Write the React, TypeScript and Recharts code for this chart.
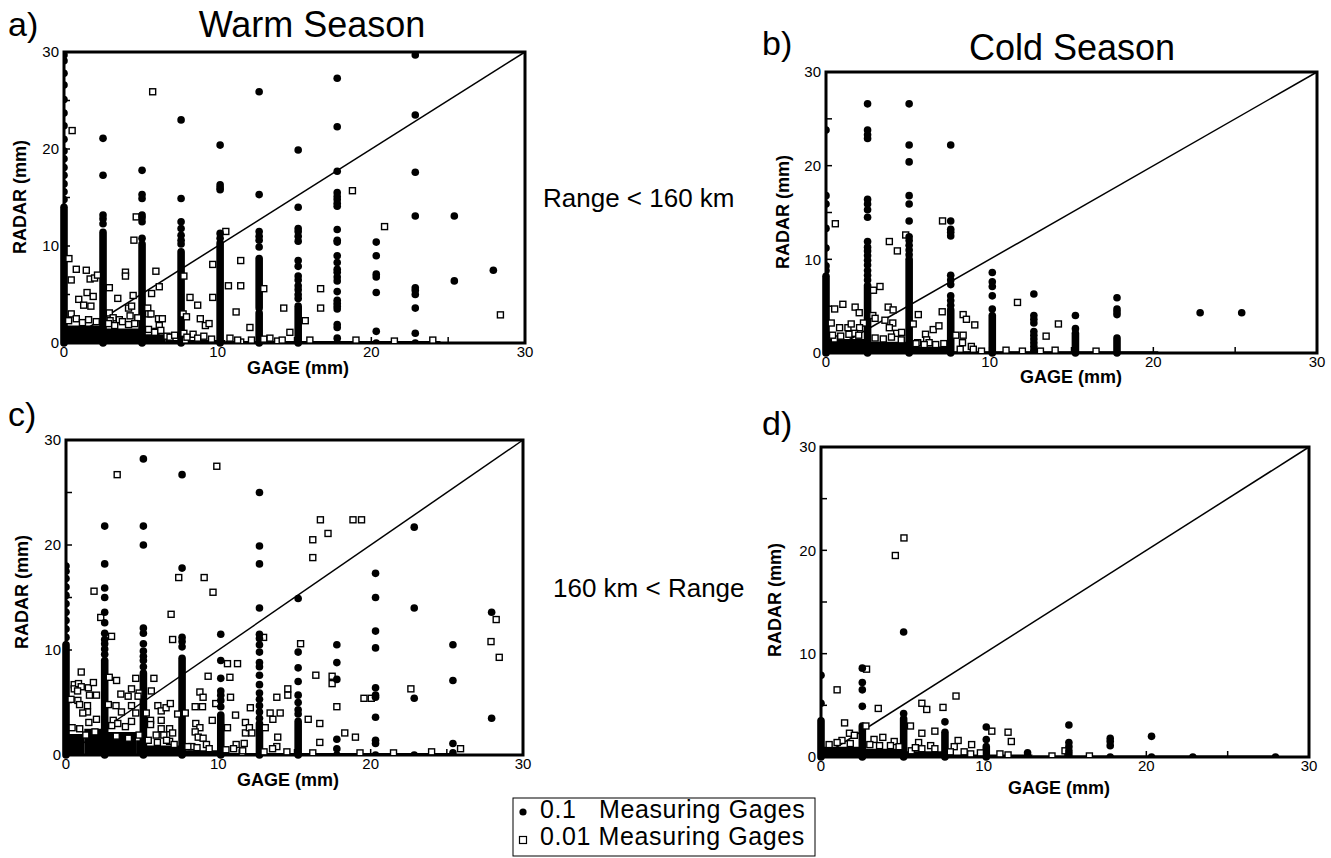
import { ScatterChart, Scatter, XAxis, YAxis, ReferenceLine, ReferenceArea } from 'recharts';

type Pt = [number, number];
type Stack = [number, number, number];
type Block = [number, number, number, number];

const FONT = '"Liberation Sans", Arial, Helvetica, sans-serif';
const axisTicks = [0, 5, 10, 15, 20, 25, 30];

// a) Warm season, range < 160 km
const aDots: Pt[] = [
  [0, 14.8], [0, 15.6], [0, 16.4], [0, 17.3], [0, 18.1], [0, 19.0], [0, 19.8], [0, 21.0], [0, 22.4], [0, 23.7], [0, 25.1], [0, 26.6], [0, 27.8], [0, 29.1], [0, 29.7],
  [2.54, 12.3], [2.54, 12.8], [2.54, 13.2], [2.54, 17.3], [2.54, 21.1],
  [5.08, 10.8], [5.08, 12.5], [5.08, 12.9], [5.08, 13.2], [5.08, 14.9], [5.08, 15.3], [5.08, 17.8],
  [7.62, 10.2], [7.62, 10.6], [7.62, 11.1], [7.62, 11.8], [7.62, 12.5], [7.62, 14.9], [7.62, 23.0],
  [10.16, 10.8], [10.16, 11.3], [10.16, 15.8], [10.16, 16.0], [10.16, 16.3], [10.16, 20.4],
  [12.7, 9.9], [12.7, 10.6], [12.7, 11.0], [12.7, 11.5], [12.7, 15.3], [12.7, 25.9],
  [15.24, 4.6], [15.24, 5.0], [15.24, 5.5], [15.24, 5.9], [15.24, 6.5], [15.24, 6.9], [15.24, 7.9], [15.24, 8.5], [15.24, 10.5], [15.24, 11.0], [15.24, 11.5], [15.24, 11.8], [15.24, 14.0], [15.24, 19.9],
  [17.78, 0], [17.78, 0.5], [17.78, 1.6], [17.78, 1.9], [17.78, 3.5], [17.78, 3.8], [17.78, 4.1], [17.78, 4.4], [17.78, 5.3], [17.78, 6.4], [17.78, 6.8], [17.78, 7.3], [17.78, 7.6], [17.78, 8.3], [17.78, 9.0], [17.78, 10.4], [17.78, 10.6], [17.78, 11.7], [17.78, 14.1], [17.78, 14.4], [17.78, 14.8], [17.78, 15.1], [17.78, 15.5], [17.78, 17.7], [17.78, 22.3], [17.78, 27.3],
  [20.32, 0], [20.32, 1.2], [20.32, 5.2], [20.32, 6.8], [20.32, 7.1], [20.32, 9.0], [20.32, 10.4],
  [22.86, 0], [22.86, 1.0], [22.86, 3.6], [22.86, 5.0], [22.86, 5.4], [22.86, 5.7], [22.86, 13.1], [22.86, 17.6], [22.86, 23.5], [22.86, 29.7],
  [25.4, 6.4], [25.4, 13.1], [27.94, 7.5],
];
const aSquares: Pt[] = [
  [5.77, 25.9], [0.53, 21.9], [0.32, 8.7], [0.8, 7.6], [0.47, 6.5], [1.45, 7.5], [1.7, 6.6], [1.99, 6.7], [2.18, 7.0], [4.0, 7.3], [4.0, 6.9],
  [4.7, 13.0], [4.55, 10.6], [5.98, 7.4], [6.2, 5.8], [5.7, 5.1], [2.95, 5.7], [3.5, 4.6], [0.96, 4.5], [1.28, 3.9], [1.5, 5.2], [1.9, 4.8],
  [1.75, 3.8], [0.47, 3.0], [4.5, 4.9], [4.2, 3.6], [4.4, 3.8], [2.95, 3.1], [5.45, 3.6], [5.5, 3.0], [5.66, 3.0], [6.15, 2.5], [6.4, 2.5],
  [6.2, 1.8], [5.98, 1.2], [7.8, 6.9], [8.2, 4.7], [8.7, 3.9], [7.75, 3.0], [7.97, 2.7], [8.87, 2.5], [9.2, 1.8], [9.44, 2.0], [9.68, 8.1],
  [9.68, 4.7], [10.7, 5.9], [11.5, 5.9], [11.5, 8.5], [10.53, 11.5], [11.2, 3.2], [13.0, 5.6], [12.1, 1.6], [14.3, 3.6], [14.7, 1.1],
  [13.4, 0.5], [13.9, 0.2], [11.5, 0.1], [16.7, 5.6], [16.7, 3.6], [15.7, 2.3], [8.4, 0.9], [7.8, 1.0], [6.7, 0.7], [7.9, 0.3],
  [18.77, 15.7], [20.86, 12.0], [28.4, 2.9], [3.2, 2.6], [3.6, 2.4], [3.0, 2.3], [4.8, 2.6], [4.3, 2.8],
  [0.3, 2.3], [0.8, 2.5], [1.2, 2.1], [1.6, 2.4], [2.1, 2.2], [2.9, 2.0], [3.3, 1.8], [3.8, 2.2], [4.2, 1.9], [4.6, 2.0], [5.5, 1.4],
  [5.9, 1.1], [6.3, 1.3], [6.9, 0.6], [7.2, 0.8], [8.0, 0.6], [8.7, 0.5], [9.1, 0.7], [9.6, 0.4], [10.8, 0.5], [11.3, 0.3], [12.2, 0.3],
  [13.0, 0.4], [14.2, 0.3], [16.0, 0.3], [19.0, 0.3], [21.5, 0.2], [24.0, 0.3],
];
const aStacks: Stack[] = [[0, 0, 14], [2.54, 0, 11.4], [5.08, 0, 10.2], [7.62, 0, 9.4], [10.16, 0, 10.3], [12.7, 0, 3.1], [12.7, 3.6, 8.7], [15.24, 0, 3.8]];
const aMass: Block[] = [[0, 2.54, 0, 1.8], [2.54, 5.08, 0, 1.5], [5.08, 6.6, 0, 0.9], [6.6, 10.5, 0, 0.3], [10.5, 24.5, 0, 0.2]];

// b) Cold season, range < 160 km
const bDots: Pt[] = [
  [0, 8.8], [0, 9.3], [0, 11.2], [0, 13.3], [0, 15.9], [0, 16.8], [0, 23.8],
  [2.54, 7.8], [2.54, 8.3], [2.54, 8.8], [2.54, 9.4], [2.54, 9.9], [2.54, 10.4], [2.54, 10.9], [2.54, 11.3], [2.54, 11.9], [2.54, 14.5], [2.54, 15.3], [2.54, 15.9], [2.54, 16.4], [2.54, 22.9], [2.54, 23.3], [2.54, 23.8], [2.54, 26.6],
  [5.08, 10.5], [5.08, 11.0], [5.08, 11.5], [5.08, 12.0], [5.08, 12.4], [5.08, 14.1], [5.08, 15.9], [5.08, 16.8], [5.08, 20.4], [5.08, 22.2], [5.08, 26.6],
  [7.62, 5.1], [7.62, 5.6], [7.62, 6.1], [7.62, 7.3], [7.62, 7.8], [7.62, 8.3], [7.62, 12.5], [7.62, 12.9], [7.62, 13.2], [7.62, 14.1], [7.62, 22.2],
  [10.16, 4.7], [10.16, 6.1], [10.16, 7.1], [10.16, 7.6], [10.16, 8.6],
  [12.7, 0], [12.7, 0.3], [12.7, 0.7], [12.7, 1.1], [12.7, 1.5], [12.7, 1.9], [12.7, 2.3], [12.7, 3.2], [12.7, 3.6], [12.7, 4.0], [12.7, 6.3],
  [15.24, 2.6], [15.24, 4.0],
  [17.78, 4.1], [17.78, 4.4], [17.78, 4.7], [17.78, 5.9],
  [22.86, 4.3], [25.4, 4.3],
];
const bSquares: Pt[] = [
  [0.57, 13.8], [0.53, 4.7], [0.32, 3.2], [1.03, 5.2], [0.83, 2.7], [0.51, 1.5], [1.34, 2.7], [1.54, 3.1], [1.78, 4.9], [2.03, 4.3], [2.29, 3.2],
  [2.05, 2.7], [1.74, 2.1], [2.9, 6.7], [3.3, 7.1], [2.86, 4.0], [3.0, 3.7], [3.6, 3.5], [3.8, 4.9], [4.1, 4.6], [3.87, 11.9], [4.36, 10.9],
  [4.87, 12.6], [4.08, 3.2], [3.87, 2.7], [4.32, 2.1], [4.62, 2.2], [5.64, 4.1], [5.33, 3.1], [6.08, 2.0], [6.55, 2.5], [6.9, 2.9], [7.1, 4.4],
  [7.12, 14.1], [7.93, 1.9], [8.38, 1.9], [8.34, 1.1], [8.38, 4.1], [8.58, 3.6], [9.09, 3.0], [8.88, 0.7], [6.15, 1.4], [6.3, 1.1], [5.6, 1.1],
  [11.7, 5.4], [13.45, 1.8], [13.1, 0.2], [14.2, 3.1],
  [0.4, 1.9], [0.9, 1.8], [1.4, 2.0], [2.0, 1.9], [3.0, 1.6], [3.5, 1.5], [4.0, 1.7], [4.6, 1.4], [5.5, 1.0], [6.0, 0.9], [6.7, 0.9],
  [7.2, 1.0], [8.2, 0.4], [9.0, 0.4], [9.5, 0.2], [11.0, 0.3], [12.0, 0.2], [14.0, 0.3], [16.5, 0.2],
];
const bStacks: Stack[] = [[0, 0, 8.2], [2.54, 0, 7.2], [5.08, 0, 10], [7.62, 0, 4.6], [10.16, 0, 4.0], [15.24, 0, 2.1], [17.78, 0, 1.6]];
const bMass: Block[] = [[0, 2.54, 0, 1.5], [2.54, 5.08, 0, 1.2], [5.08, 7.62, 0, 0.7], [7.62, 20.3, 0, 0.2]];

// c) Warm season, 160 km < range
const cDots: Pt[] = [
  [0, 11.2], [0, 12.0], [0, 12.8], [0, 13.6], [0, 14.4], [0, 15.2], [0, 16.0], [0, 16.8], [0, 17.5], [0, 18.0],
  [2.54, 9.6], [2.54, 10.1], [2.54, 10.6], [2.54, 11.0], [2.54, 11.6], [2.54, 12.6], [2.54, 13.6], [2.54, 15.0], [2.54, 15.9], [2.54, 18.2], [2.54, 21.8],
  [5.08, 8.4], [5.08, 9.0], [5.08, 9.4], [5.08, 9.9], [5.08, 10.6], [5.08, 11.6], [5.08, 12.1], [5.08, 20.0], [5.08, 21.8], [5.08, 28.2],
  [7.62, 10.3], [7.62, 10.8], [7.62, 11.2], [7.62, 17.8], [7.62, 26.7],
  [10.16, 4.6], [10.16, 5.2], [10.16, 5.7], [10.16, 6.1], [10.16, 7.3], [10.16, 9.0], [10.16, 11.5],
  [12.7, 3.5], [12.7, 4.1], [12.7, 4.7], [12.7, 5.3], [12.7, 5.9], [12.7, 6.7], [12.7, 7.6], [12.7, 8.4], [12.7, 8.8], [12.7, 9.8], [12.7, 10.5], [12.7, 11.1], [12.7, 11.5], [12.7, 14.0], [12.7, 18.2], [12.7, 19.9], [12.7, 25.0],
  [15.24, 0], [15.24, 3.9], [15.24, 4.3], [15.24, 5.0], [15.24, 5.7], [15.24, 7.0], [15.24, 8.3], [15.24, 9.8], [15.24, 14.9],
  [17.78, 0], [17.78, 0.6], [17.78, 1.5], [17.78, 7.2], [17.78, 8.8], [17.78, 10.5],
  [20.32, 0], [20.32, 1.1], [20.32, 1.4], [20.32, 3.6], [20.32, 5.5], [20.32, 5.7], [20.32, 6.4], [20.32, 10.2], [20.32, 11.8], [20.32, 15.0], [20.32, 17.3],
  [22.86, 0], [22.86, 5.4], [22.86, 14.0], [22.86, 21.7],
  [25.4, 0.2], [25.4, 1.1], [25.4, 7.1], [25.4, 10.5],
  [27.94, 3.5], [27.94, 13.6],
];
const cSquares: Pt[] = [
  [3.36, 26.7], [9.9, 27.5], [1.84, 15.6], [2.28, 13.1], [2.99, 11.3], [6.9, 13.4], [7.4, 16.9], [9.07, 16.9], [9.65, 15.5], [7.0, 11.0],
  [1.0, 7.9], [0.54, 6.7], [0.54, 6.3], [0.82, 6.8], [1.0, 6.5], [0.76, 6.1], [1.47, 6.4], [1.8, 6.9], [1.54, 5.7], [2.0, 5.7], [0.33, 5.3],
  [0.78, 5.2], [0.89, 4.8], [1.41, 4.7], [1.41, 4.1], [1.1, 4.0], [2.84, 7.4], [3.32, 7.1], [3.6, 5.8], [4.08, 5.6], [4.3, 6.3], [4.58, 7.3],
  [4.8, 5.9], [4.73, 5.6], [5.6, 6.1], [5.77, 7.3], [3.28, 4.7], [3.64, 4.1], [4.3, 4.7], [4.58, 4.0], [2.78, 4.8], [3.1, 3.3], [5.27, 4.0],
  [6.03, 4.7], [6.25, 4.2], [6.57, 4.5], [6.85, 4.9], [5.55, 3.3], [5.55, 2.9], [6.25, 3.3], [6.25, 2.5], [6.8, 2.5], [7.0, 2.1], [5.92, 1.9],
  [6.42, 1.9], [6.8, 1.3], [7.83, 4.0], [7.33, 3.9], [8.79, 6.0], [9.0, 5.5], [8.48, 4.6], [8.96, 4.6], [8.52, 3.0], [8.79, 2.6], [8.48, 2.2],
  [8.68, 1.7], [9.0, 1.6], [9.22, 1.0], [8.26, 0.8], [9.6, 3.3], [9.83, 4.9], [9.33, 7.5], [10.76, 7.4], [10.6, 8.7], [11.26, 8.7], [10.8, 5.5],
  [11.13, 3.8], [10.6, 2.6], [11.78, 3.1], [11.78, 2.1], [12.04, 2.6], [12.1, 4.5], [12.2, 2.1], [11.17, 1.0], [11.7, 1.1], [11.0, 0.6],
  [11.56, 0.2], [12.97, 11.2], [13.08, 2.6], [13.4, 4.0], [13.58, 3.4], [14.06, 4.0], [13.84, 5.5], [13.9, 1.7], [13.84, 0.8], [13.56, 0.6],
  [14.56, 6.3], [14.56, 5.7], [15.4, 10.6], [16.4, 7.6], [15.9, 3.4], [16.66, 3.0], [16.66, 1.2], [16.2, 20.5], [16.2, 18.8], [16.7, 22.4],
  [17.2, 21.1], [18.84, 22.4], [19.4, 22.4], [17.47, 7.5], [17.47, 6.8], [17.78, 4.6], [19.56, 5.4], [20.04, 5.4], [22.64, 6.3], [18.3, 2.1],
  [19.0, 1.7], [25.9, 0.6], [28.24, 12.9], [27.9, 10.8], [28.44, 9.3],
  [0.4, 2.6], [0.9, 2.5], [1.5, 3.1], [2.0, 3.4], [3.0, 2.8], [3.4, 3.0], [3.9, 2.7], [4.3, 3.2], [4.8, 1.9], [5.4, 1.4], [6.0, 1.2], [6.6, 1.4],
  [7.1, 1.0], [8.0, 0.8], [8.6, 0.7], [9.4, 0.6], [10.5, 0.5], [11.6, 0.4], [13.0, 0.3], [14.5, 0.3], [16.2, 0.2], [19.3, 0.2], [21.5, 0.2], [24.0, 0.3],
  [1.3, 1.9], [1.9, 2.2], [3.3, 1.8], [4.1, 1.6],
];
const cStacks: Stack[] = [[0, 0, 10.5], [2.54, 0, 9], [5.08, 0, 7.8], [7.62, 0, 9.2], [10.16, 0, 3.8], [12.7, 0, 3], [15.24, 0, 3.2]];
const cMass: Block[] = [[0, 1.2, 0, 2.0], [1.2, 2.54, 0, 2.5], [2.54, 4.6, 0, 2.2], [4.6, 5.08, 0, 1.4], [5.08, 7.62, 0, 0.9], [7.62, 10.16, 0, 0.45], [10.16, 25.5, 0, 0.2]];

// d) Cold season, 160 km < range
const dDots: Pt[] = [
  [0, 5.2], [0, 7.9],
  [2.54, 4.9], [2.54, 6.5], [2.54, 7.2], [2.54, 8.6],
  [5.08, 4.2], [5.08, 12.1],
  [7.62, 3.4],
  [10.16, 1.7], [10.16, 2.9],
  [12.7, 0.1], [12.7, 0.4],
  [15.24, 0], [15.24, 0.3], [15.24, 0.6], [15.24, 1.0], [15.24, 1.4], [15.24, 3.1],
  [17.78, 0], [17.78, 1.1], [17.78, 1.5], [17.78, 1.8],
  [20.32, 0], [20.32, 2.0],
  [22.86, 0], [27.94, 0],
];
const dSquares: Pt[] = [
  [4.57, 19.5], [5.1, 21.2], [2.8, 8.5], [0.99, 6.5], [3.52, 4.7], [1.45, 3.3], [6.2, 5.2], [6.5, 4.6], [7.5, 4.8], [8.3, 5.9], [5.5, 3.0],
  [6.2, 2.3], [7.0, 2.5], [6.0, 1.4], [6.2, 0.8], [6.74, 1.1], [7.0, 0.8], [2.76, 3.0], [1.75, 2.3], [2.05, 2.1], [3.26, 1.7], [3.8, 1.9],
  [4.5, 1.5], [4.27, 1.1], [1.29, 1.6], [0.99, 1.4], [0.5, 1.2], [8.43, 1.6], [8.19, 1.0], [7.95, 0.5], [9.26, 1.2], [10.5, 2.5], [11.5, 2.4],
  [11.7, 1.5], [11.5, 0.2], [5.55, 0.6], [9.2, 0.3], [15.0, 0.6],
  [1.8, 1.3], [3.0, 1.2], [3.6, 1.1], [4.8, 1.0], [5.8, 0.9], [8.8, 0.5], [9.8, 0.4], [11.0, 0.3], [14.2, 0.1], [16.5, 0.1],
];
const dStacks: Stack[] = [[0, 0, 3.5], [2.54, 0, 3.0], [5.08, 0, 3.7], [7.62, 0, 2.4], [10.16, 0, 1.0]];
const dMass: Block[] = [[0, 2.54, 0, 1.0], [2.54, 5.08, 0, 0.8], [5.08, 7.8, 0, 0.55], [7.8, 13, 0, 0.25], [13, 28, 0, 0.15]];

const toPoints = (pts: Pt[]) => pts.map(([x, y]) => ({ x, y }));
const tickLabel = (v: number) => (v % 10 === 0 ? String(v) : '');

const renderDot = (p: any) => <circle cx={p.cx} cy={p.cy} r={3.8} fill="#000" />;
const renderSquare = (p: any) => (
  <rect x={p.cx - 3} y={p.cy - 3} width={6} height={6} fill="#fff" stroke="#000" strokeWidth={1.4} />
);

interface PanelProps {
  plot: [number, number, number, number];
  dots: Pt[];
  squares: Pt[];
  stacks: Stack[];
  mass: Block[];
}

function Panel({ plot, dots, squares, stacks, mass }: PanelProps) {
  const [x0, y0, x1, y1] = plot;
  const tickLine = { stroke: '#000', strokeWidth: 1.5 };
  const tick = { fill: '#000', fontSize: 15, fontFamily: FONT };
  return (
    <div style={{ position: 'absolute', left: x0 - 60, top: y0 - 20 }}>
      <ScatterChart
        width={x1 - x0 + 72}
        height={y1 - y0 + 80}
        margin={{ top: 20, right: 12, bottom: 30, left: 20 }}
      >
        <XAxis
          type="number"
          dataKey="x"
          domain={[0, 30]}
          ticks={axisTicks}
          interval={0}
          allowDataOverflow
          height={30}
          tickSize={-6}
          tickMargin={9}
          tickFormatter={tickLabel}
          axisLine={false}
          tickLine={tickLine}
          tick={tick}
        />
        <YAxis
          type="number"
          dataKey="y"
          domain={[0, 30]}
          ticks={axisTicks}
          interval={0}
          allowDataOverflow
          width={40}
          tickSize={-6}
          tickMargin={11}
          tickFormatter={tickLabel}
          axisLine={false}
          tickLine={tickLine}
          tick={tick}
        />
        {mass.map(([a, b, c, d], i) => (
          <ReferenceArea key={'m' + i} x1={a} x2={b} y1={c} y2={d} fill="#000" fillOpacity={1} stroke="none" ifOverflow="visible" />
        ))}
        {stacks.map(([x, ya, yb], i) => (
          <ReferenceLine
            key={'s' + i}
            segment={[{ x, y: ya }, { x, y: yb }]}
            stroke="#000"
            strokeWidth={7.6}
            strokeLinecap="round"
            ifOverflow="visible"
          />
        ))}
        <ReferenceLine segment={[{ x: 0, y: 0 }, { x: 30, y: 30 }]} stroke="#000" strokeWidth={1.5} ifOverflow="visible" />
        <ReferenceArea x1={0} x2={30} y1={0} y2={30} fill="none" fillOpacity={0} stroke="#000" strokeWidth={3} ifOverflow="visible" />
        <Scatter data={toPoints(squares)} shape={renderSquare} isAnimationActive={false} />
        <Scatter data={toPoints(dots)} shape={renderDot} isAnimationActive={false} />
      </ScatterChart>
    </div>
  );
}

function AxisTitles({ radar, gage }: { radar: [number, number]; gage: [number, number] }) {
  return (
    <>
      <text
        transform={`translate(${radar[0]},${radar[1]}) rotate(-90)`}
        textAnchor="middle"
        dominantBaseline="central"
        fontSize={18}
        fontWeight="bold"
      >
        RADAR (mm)
      </text>
      <text x={gage[0]} y={gage[1]} textAnchor="middle" dominantBaseline="central" fontSize={18} fontWeight="bold">
        GAGE (mm)
      </text>
    </>
  );
}

export default function App() {
  return (
    <div style={{ position: 'absolute', left: 0, top: 0, width: 1331, height: 858, background: '#fff', overflow: 'hidden' }}>
      <Panel plot={[64, 52, 525, 343]} dots={aDots} squares={aSquares} stacks={aStacks} mass={aMass} />
      <Panel plot={[826, 72, 1317, 353]} dots={bDots} squares={bSquares} stacks={bStacks} mass={bMass} />
      <Panel plot={[66, 440, 523, 755]} dots={cDots} squares={cSquares} stacks={cStacks} mass={cMass} />
      <Panel plot={[821, 447, 1309, 757]} dots={dDots} squares={dSquares} stacks={dStacks} mass={dMass} />
      <svg
        width={1331}
        height={858}
        style={{ position: 'absolute', left: 0, top: 0, pointerEvents: 'none' }}
        fontFamily={FONT}
        fill="#000"
      >
        <text x={8} y={36} fontSize={34}>a)</text>
        <text x={312} y={37} fontSize={36} textAnchor="middle">Warm Season</text>
        <text x={762} y={55} fontSize={34}>b)</text>
        <text x={1072} y={60} fontSize={36} textAnchor="middle">Cold Season</text>
        <text x={8} y={426} fontSize={34}>c)</text>
        <text x={762} y={435} fontSize={34}>d)</text>
        <text x={543} y={207} fontSize={26}>Range &lt; 160 km</text>
        <text x={553} y={597} fontSize={26}>160 km &lt; Range</text>
        <AxisTitles radar={[20, 197]} gage={[298, 368]} />
        <AxisTitles radar={[783, 212]} gage={[1071, 377]} />
        <AxisTitles radar={[22, 592]} gage={[288, 780]} />
        <AxisTitles radar={[775, 600]} gage={[1059, 788]} />
        <rect x={513} y={798} width={302} height={58} fill="none" stroke="#000" strokeWidth={1} />
        <circle cx={523} cy={812} r={3.6} fill="#000" />
        <rect x={519.5} y={836.5} width={7} height={7} fill="#fff" stroke="#000" strokeWidth={1.2} />
        <text x={540} y={818} fontSize={25} letterSpacing={0.6}>0.1</text>
        <text x={599} y={818} fontSize={25} letterSpacing={0.6}>Measuring Gages</text>
        <text x={540} y={845} fontSize={25} letterSpacing={0.6}>0.01 Measuring Gages</text>
      </svg>
    </div>
  );
}
